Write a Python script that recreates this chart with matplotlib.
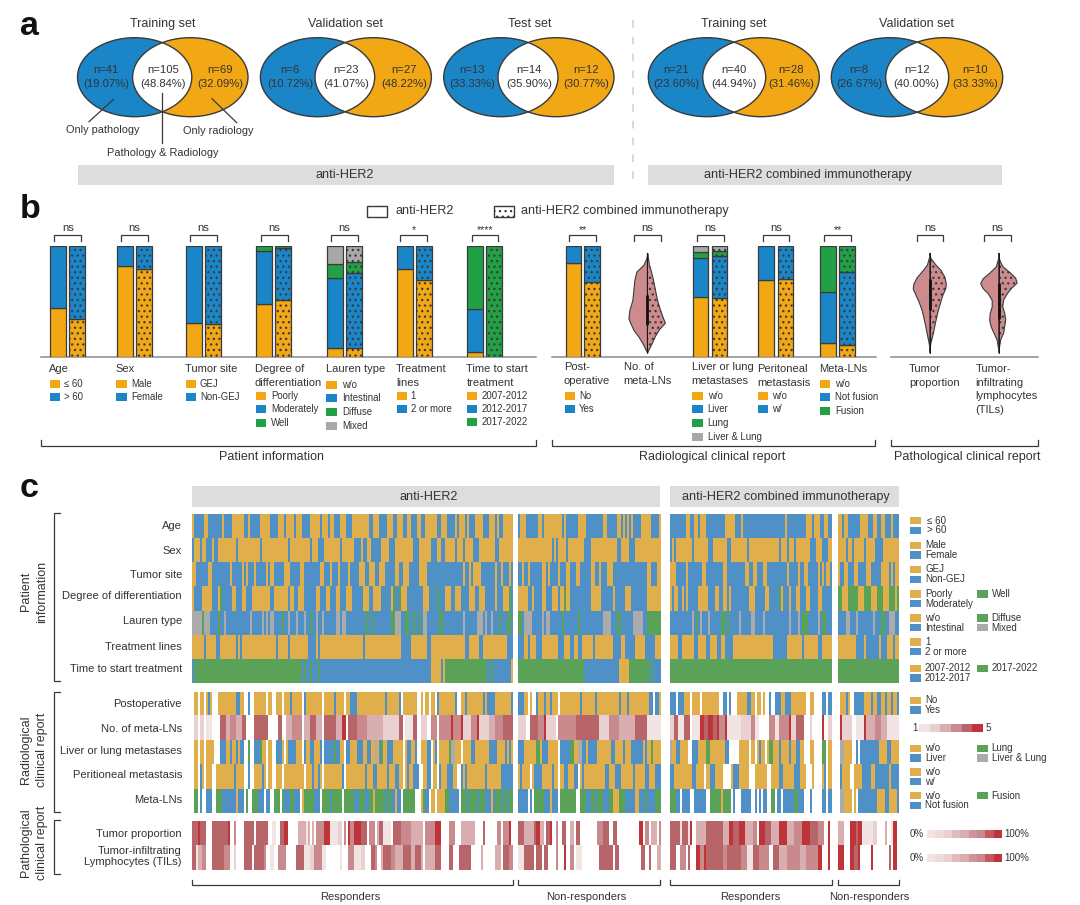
import numpy as np
import matplotlib
matplotlib.use("Agg")
import matplotlib.pyplot as plt
from matplotlib.colors import ListedColormap
from matplotlib.patches import Ellipse, Rectangle

plt.rcParams['font.family'] = ['Liberation Sans', 'DejaVu Sans']
plt.rcParams['hatch.linewidth'] = 0.9

W, H = 1080, 905
ORANGE = '#F2A714'
BLUE = '#1A86C8'
GREEN = '#22A046'
GREY = '#A8A8A8'
DARK = '#3A3A3A'
TXT = '#333333'
BANNER = '#DCDEDD'
VIOLIN = '#CD8B8D'
DOTS = '...'

# ---- panel a data
venn_titles = ['Training set', 'Validation set', 'Test set', 'Training set', 'Validation set']
venn_only_path = [('n=41', '(19.07%)'), ('n=6', '(10.72%)'), ('n=13', '(33.33%)'), ('n=21', '(23.60%)'), ('n=8', '(26.67%)')]
venn_both = [('n=105', '(48.84%)'), ('n=23', '(41.07%)'), ('n=14', '(35.90%)'), ('n=40', '(44.94%)'), ('n=12', '(40.00%)')]
venn_only_rad = [('n=69', '(32.09%)'), ('n=27', '(48.22%)'), ('n=12', '(30.77%)'), ('n=28', '(31.46%)'), ('n=10', '(33.33%)')]
venn_left = [77.5, 260.4, 443.7, 648.3, 831.3]
venn_right = [248, 431.4, 614, 819.3, 1002.7]
venn_lens_l = [132.6, 315, 498, 702.7, 885.7]
venn_lens_r = [191.8, 374.7, 558, 765.7, 948.7]
venn_txt_x = [(106, 163, 220), (290, 346, 404), (472, 529.4, 586.5), (676, 734, 790.7), (859.3, 916.7, 974.7)]

# ---- panel b data, stacked percentages (bottom to top): anti-HER2, combined
age = [[44, 56], [34.4, 65.6]]
sex = [[82.3, 17.7], [79.3, 20.7]]
tumor_site = [[30.2, 69.8], [29.3, 70.7]]
differentiation = [[48, 47.5, 4.5], [51, 46.9, 2.1]]
lauren = [[7.8, 63.2, 12.5, 16.5], [7.8, 68.2, 10, 14]]
treatment_lines = [[79, 21], [69, 31]]
time_to_start = [[4.2, 39.2, 56.6], [0, 0, 100]]
postoperative = [[84.4, 15.6], [67.4, 32.6]]
liver_lung = [[54.5, 35, 4.8, 5.7], [53.6, 37.4, 4.2, 4.8]]
peritoneal = [[69.8, 30.2], [70.7, 29.3]]
meta_lns = [[12.3, 46.4, 41.3], [11, 65.3, 23.7]]
stack_colors = [ORANGE, BLUE, GREEN, GREY]

bar_groups = [age, sex, tumor_site, differentiation, lauren, treatment_lines, time_to_start,
              postoperative, liver_lung, peritoneal, meta_lns]
bar_x = [(50.3, 69.2), (117, 136), (186, 205), (256, 275), (327, 346), (397, 416), (467, 486),
         (565.5, 584.4), (692.5, 711.5), (758.3, 777.6), (820.3, 839)]

sig_labels = ['ns', 'ns', 'ns', 'ns', 'ns', '*', '****', '**', 'ns', 'ns', 'ns', '**', 'ns', 'ns']
sig_x = [(54.4, 81.3), (121, 147.7), (190, 217), (260.7, 287.5), (331, 358), (400, 427), (472, 498),
         (569, 596), (633.7, 660.5), (696.7, 723.5), (762.5, 789.3), (824.4, 851.3), (916.7, 943.2), (984, 1010.7)]

# violin outlines: height in percent, half widths to the left and the right
vio_meta_y = [93.4, 89, 83, 77, 69.5, 60.5, 51.5, 42.5, 35, 30.5, 24.5, 18.5, 12.5, 7, 4]
vio_meta_l = [0, 1, 4, 11, 13, 14, 15, 18, 19, 17, 14, 9, 5, 2, 0]
vio_meta_r = [0, 1, 2, 4, 6, 8, 10, 13, 16, 18, 12, 8, 5, 2, 0]
vio_prop_y = [93.4, 89, 83, 78.3, 72, 66, 61.5, 55.5, 49.5, 42, 30, 21, 12, 4]
vio_prop_l = [0, 1, 3, 7, 13, 16.5, 17, 14, 11, 8, 5, 3, 1, 0]
vio_prop_r = [0, 1, 6, 11, 15, 16.5, 16, 13, 11, 8.5, 5.5, 3.5, 1, 0]
vio_til_y = [93.4, 87.5, 81.5, 75.5, 71, 66.6, 62, 57.5, 51.5, 45.5, 39.5, 33.5, 27.5, 21.5, 15.5, 4]
vio_til_l = [0, 1, 3, 10, 16, 18.5, 16, 11, 7, 7, 9, 9.5, 8, 5, 2, 0]
vio_til_r = [0, 1, 4, 12, 17, 18.5, 13, 9, 5, 4, 6, 7, 6, 5, 2, 0]
vio_x = [647.4, 929.8, 998.7]
vio_box = [(29, 56), (42, 70), (34, 67)]

# ---- panel c data, one run list per row and block (letter + number of columns)
hm_age = ['O1 B5 O2 B7 O1 B4 O6 B2 O1 B5 O5 B3 O3 B1 O4 B1 O3 B4 O5 B1 O3 B1 O2 B3 O3 B3 O2 O6 B2 O3 B4 O3 B2 O3 B2 O2 B3 O2 B2 O5 B2 O3 B4 O1 B1 O3 B1 O1 B3 O4 B3 O3 B1 O1 B2 O5',
          'B1 O3 B6 O2 B1 O9 B1 O1 B6 O4 B7 O2 B5 O2 B1 O1 B1 O1 B1 O1 B4 O5 B4 O1',
          'B8 O2 B2 O2 B1 O3 B9 O5 B3 O1 B22 O1 B9 O3 B1 O3 B2 O2 B2',
          'O2 B1 O2 B6 O4 B2 O2 B2 O2 B3 O1 B3']
hm_sex = ['B1 O3 B1 O2 B3 O1 B2 O9 B1 O11 B1 O13 B1 O10 B1 O3 B3 O8 B1 O7 B3 O1 B2 O2 B5 O4 B3 O9 B3 O6 B3 O2 B2 O5 B1 O3 B1 O4 B3 O8 B2 O7',
          'O17 B1 O1 B1 O4 B1 O8 B2 O13 B2 O4 B3 O13',
          'B1 O1 B1 O8 B1 O7 B2 O7 B2 O8 B1 O15 B1 O3 B1 O2 B1 O7 B3 O3 B3 O2',
          'O4 B1 O2 B1 O5 B1 O4 B4 O8']
hm_site = ['O2 B6 O2 B9 O1 B5 O1 B1 O1 B3 O1 B5 O1 B1 O2 B5 O3 B5 O2 B8 O2 B3 O1 B3 O1 B4 O1 B3 O3 B2 O3 B2 O3 B5 O2 B2 O3 B5 O4 B3 B15 O1 B2 O1 B1 O4 B7 O1 B2 O1 B3 O1 B1',
           'B2 O1 B2 O1 B6 O2 B1 O1 B4 O1 B3 O2 B3 O2 B5 O2 B2 O1 B3 O3 B17 O2 B3 O2',
           'O3 B5 O1 B7 O2 B8 O2 B9 O2 B2 O2 B3 O2 B10 O1 B4 O1 B2 O2 B5 O1 B1 O1 B1 O2 B1',
           'O1 B2 O2 B3 O2 B4 O2 B5 O4 B1 O1 B1 O2']
hm_diff = ['O1 B4 O5 B3 O1 G1 B5 O2 B3 O2 B3 O9 B3 O7 B1 O2 B2 O3 B6 O2 B3 O2 B3 O2 B3 O3 B5 O3 B2 O4 B5 O1 G1 B2 G1 O3 B4 B4 O3 B5 G1 B3 O3 B2 O3 B4 O3 B2 O3 B5 O1 B3 O3 G1 B1',
           'O5 B2 O1 B4 O2 B3 O3 B1 O2 G1 O2 B10 O5 B6 O1 B5 O3 B8 O7',
           'O1 B1 O2 B2 O1 B1 O1 B5 O5 B4 O2 B2 O2 B1 O1 B9 O3 B5 O2 B5 G1 O1 B3 O2 B2 O2 B3 O2 B4 O2 B5',
           'G2 O3 G5 O3 G3 O3 G3 O3 G3 O1 G1']
hm_lauren = ['S5 G1 S3 B4 G1 B2 S1 B12 S1 B5 S1 B1 S1 B1 S1 B4 G1 B2 S1 B3 S1 B3 S1 B2 G1 B2 S1 B2 S1 B6 S2 B1 S2 B9 G1 B2 G1 B9 G2 S3 B2 G2 B2 G1 B2 G1 B1 S2 B5 G2 B10 S1 B6 S3 B1 S1 B2 S1 B3 G1 B3 G2 B1',
             'G2 B1 S4 B5 S1 B1 S2 B5 G1 B7 G1 B11 S4 B3 G2 B5 S5 B2 G7',
             'B11 S1 B1 G1 B1 S1 B3 S1 B5 G2 B1 G1 B5 S1 B5 S2 B4 S1 B12 S1 B3 S1 B1 G3 B5 S1 B1 G2 B3',
             'B4 S2 B3 S1 B7 S1 B3 G2 B2 S3 B2']
hm_lines = ['O6 B1 O5 B2 O8 B1 O1 B1 O17 B1 O5 B1 O9 B4 O1 B1 O22 B1 O18 B5 O8 B2 O17 B2 O5 B2 O12 B3',
            'B3 O2 B1 O3 B3 O8 B3 O3 B2 O2 B2 O4 B1 O9 B4 O2 B5 O5 B5 O3',
            'O4 B2 O6 B2 O4 B2 O4 B2 O2 B4 O20 B7 O8 B1 O7 B2 O5',
            'O9 B4 O1 B6 O1 B3 O3 B1 O2']
hm_time = ['B1 G54 B1 G1 B2 G1 B3 G1 B54 O5 B1 O1 G21 B2 G1 B9 O1',
           'G33 B17 O5 G10 B1 G1 B4',
           'G80',
           'G30']
hm_postop = ['W1 O2 W1 O2 W1 O1 B1 O1 W3 O9 B2 O2 W1 B1 W2 O6 W1 O2 W2 O3 W1 O3 B1 O5 W1 B1 O8 W1 O5 B1 O4 W1 O2 B2 O14 B1 O6 B1 W1 O7 W2 O1 W1 O2 W1 O2 W1 B1 O8 B1 W1 O2 B1 O8 B1 O1 B4 O8 B1',
             'B3 O2 W1 O1 W2 B1 O2 B1 O2 B1 O3 W1 O10 B1 O5 B1 O11 B1 O3 B1 O9 B2 W1 B2 O1',
             'B3 W1 B3 O3 W1 O5 W1 O8 W2 B2 W1 B1 W3 O5 B2 W1 O2 W1 O2 W1 O1 W2 B1 W2 B3 O2 B3 O7 W3 O2 W4 B2 W1 B2',
             'W1 O3 B1 O1 W2 B5 O2 B1 O2 B2 O2 B1 O2 B1 O2 B1']
hm_nmeta = ['W1 b2 W1 b2 W1 a3 W3 e3 c2 d3 c3 e2 W4 e7 W2 W2 e2 W2 c3 d5 W1 c3 e3 c3 W1 e5 c3 f2 W1 e4 d5 c7 b8 e2 W1 a4 e2 W2 b3 W2 d2 W1 d6 f1 d4 f1 b4 d3 f1 b4 c3 d4 e5',
            'b4 W2 e4 d3 f1 b5 W1 d9 e5 e5 b5 d5 c8 e6 a7',
            'b2 e2 a3 e3 W1 a4 f2 e2 f2 e2 f1 d3 f1 a7 b5 W1 d2 a2 W5 d3 a2 d5 f1 b2 e4 W3 b1 W5 f1 W2 b2',
            'W1 f1 b5 W2 a4 f1 c4 d3 c3 a6']
hm_liver = ['W1 O2 W1 O2 W1 O3 W3 B3 O2 B1 O2 B1 O1 B2 W1 G1 W2 B3 G1 O2 W1 O2 W2 B2 O1 W1 O1 B4 O3 W1 B1 O2 B2 O2 B1 W1 B5 G1 B2 O2 W1 B2 O2 B3 O2 B2 O2 S1 O1 B1 G1 O2 B2 O5 W1 O1 B2 O2 B1 W2 O2 B2 W1 O1 B1 W1 O5 G1 S2 O2 W1 O4 B2 O7 B3 O4 B1 O1 B1 O1',
            'B3 O6 G2 O1 B3 O5 W1 B5 G2 O2 S2 B2 O1 B4 O7 B2 O4 B1 O3 B6 O1 B1 O2 G1 O4',
            'S1 O2 B2 O4 W1 B3 O4 G2 O7 B2 W4 O5 W1 O2 W1 O1 B1 O2 W1 O1 G1 O3 B1 O4 B1 O2 B2 O2 W3 O1 W4 G2 W1 O2',
            'W1 S2 O4 W2 B1 W1 B9 O4 B2 O4']
hm_perit = ['W1 O2 W1 B1 O1 W1 O3 W2 O8 B1 O4 W1 W1 B1 W2 O4 B1 O1 W1 O2 W2 O3 W1 O9 W1 O3 B1 O2 B1 O1 W1 O9 B1 W1 O8 B1 O3 B2 O5 B1 O3 B2 O2 W1 O1 B1 O2 B2 W2 O2 B2 W1 O2 W1 B1 O3 B3 O2 W2 B1 O1 B1 O8 B1 O7 B6',
            'O1 B1 O4 W1 O1 B4 O5 B1 O3 W1 O2 B2 O3 B2 W1 O1 B1 O10 B2 O3 B3 O7 B1 O5 B2 O3 B3',
            'B2 O9 B2 O4 W1 O2 B2 O4 W4 O1 B3 O5 W2 O6 W2 O4 B2 O5 B3 O3 W3 O1 W4 O1 B1 W1 O2',
            'W1 B1 O4 W2 O4 B3 O2 B3 B4 O1 B4']
hm_meta = ['W1 G2 W1 B1 W2 B3 W2 G3 B6 O1 B3 W1 G1 W2 G3 B3 W1 B2 W2 G3 W1 G1 B2 G2 B3 W1 O1 G5 B3 W1 G4 B1 G5 W1 G4 B2 G3 B2 G2 O1 G5 B1 G2 B2 O1 B2 W1 G6 W2 O1 G1 B2 W1 O2 W1 O4 G2 B5 W1 G3 B1 G4 B1 G2 B3 O1 B1 G3 B1 G2 B1 G2',
           'B5 W1 B1 W1 G5 B3 O1 B3 W1 G8 W2 G3 B1 G2 B1 G3 B3 G2 O3 G3 B5 O2 B3 G1 B4 G3',
           'G3 B2 W1 B4 W2 B6 W2 G5 O1 G4 W1 B1 W3 B6 W2 B1 W1 B1 W1 B2 W2 G2 W1 B2 W1 B5 G2 B3 W3 B1 W5 B2 W1 B2',
           'W1 S2 O4 W1 O1 W1 B9 O4 B2 O4 B1']
hm_prop = ['e3 f1 e3 W3 e8 f1 W2 d1 W4 e4 W1 e6 W2 a2 W2 e2 f2 W5 c4 a1 c1 W1 c1 W1 d4 f3 a4 b2 W1 d1 W1 f1 d1 f3 e3 W1 d3 W1 c1 e2 a4 W1 e4 d5 c6 W1 d5 f3 W4 d3 W2 c7 W4 e1 W6 d2 W1 d3 f1 W1',
           'e3 c5 e1 f2 c2 W1 e2 f1 W2 d1 W2 e2 W2 c2 W1 e2 W9 d3 e3 W2 e2 W11 f2 W1 d2 W1 c3 W1 d1',
           'e5 a1 e3 a1 f1 W2 c5 e8 c3 f2 e3 f3 c3 d2 W1 f3 e3 c4 f4 c3 d4 f4 e4 d3 W2 f1 W1',
           'c3 W3 f3 e1 f2 a5 b2 W4 c1 W2 a1 f2 W1']
hm_tils = ['e2 a1 c2 d2 W3 e6 d3 W2 b1 W4 e4 W1 e5 d1 W2 a2 W2 d4 W5 e4 a3 b2 d4 a2 W7 a1 W3 d2 a3 b2 W3 e2 d1 W2 c1 e4 d2 c4 e4 c2 e3 c1 W1 c5 e3 W4 e2 W3 e6 W5 c1 W6 c3 W1 e3 d2',
           'a3 e5 W1 e3 W1 e2 W4 d1 W3 f1 W2 d2 W1 a3 W8 e7 W1 e2 W11 e2 W2 e1 W3 c2',
           'e3 W2 d3 W1 e1 W3 f2 d2 f1 e8 d2 e7 d3 a3 e3 d5 W2 e3 c4 d6 c3 d6 f2 W3 f1 W1',
           'f3 W3 f2 e2 f1 W5 f1 W8 e1 W1 f2 W1']

row_group1 = [hm_age, hm_sex, hm_site, hm_diff, hm_lauren, hm_lines, hm_time]
row_group2 = [hm_postop, hm_nmeta, hm_liver, hm_perit, hm_meta]
row_group3 = [hm_prop, hm_tils]
block_cols = [160, 71, 80, 30]
block_x = [(192, 512.7), (517.7, 660), (670, 831.7), (837.7, 898.7)]
group_y = [(514, 683), (692, 813), (821, 870)]

hm_codes = 'WOBGSabcdef'
hm_colors = ['#FFFFFF', '#E1AE4C', '#4F91C7', '#5AA257', '#ABABAB',
             '#F3E4E4', '#E9D1D2', '#D9AEB0', '#C98A8D', '#B76569', '#BF3438']
hm_cmap = ListedColormap(hm_colors)
key_six = ['#F3E4E4', '#E9D1D2', '#D9AEB0', '#C98A8D', '#B76569', '#BF3438']
key_nine = ['#F3E4E4', '#EEDADB', '#E9D1D2', '#DEBBBD', '#D9AEB0', '#CE9496', '#C98A8D', '#C45A5D', '#BF3438']


def expand(runs, ncols):
    # run list to one code per column, fitted to the width of the block
    tokens = runs.split()
    codes = [hm_codes.index(t[0]) for t in tokens]
    counts = np.array([int(t[1:]) for t in tokens])
    edges = np.round(np.cumsum(counts) * ncols / counts.sum()).astype(int)
    return np.repeat(codes, np.diff(np.r_[0, edges]))


fig = plt.figure(figsize=(W / 100, H / 100), dpi=100)
ax = fig.add_axes([0, 0, 1, 1])
ax.set_xlim(0, W)
ax.set_ylim(H, 0)
ax.axis('off')


def T(x, y, s, size=7, ha='left', va='center', **kw):
    kw.setdefault('color', TXT)
    return ax.text(x, y, s, fontsize=size, ha=ha, va=va, **kw)


def bracket(x0, x1, y, tip):
    # tip is signed: the way the ends point
    ax.plot([x0, x0, x1, x1], [y + tip, y, y, y + tip], color=DARK, lw=0.9, solid_joinstyle='miter')


def side_bracket(x, tip, y0, y1):
    ax.plot([x + tip, x, x, x + tip], [y0, y0, y1, y1], color=DARK, lw=0.9, solid_joinstyle='miter')


def swatch(x, y, w, c):
    ax.add_patch(Rectangle((x, y - 4), w, 8, fc=c, ec='none'))


def panel_axes(x0, x1, y0, y1):
    return fig.add_axes([x0 / W, 1 - y1 / H, (x1 - x0) / W, (y1 - y0) / H])


# panel letters
for (x, y, s) in [(20, 35, 'a'), (20, 218, 'b'), (20, 497, 'c')]:
    ax.text(x, y, s, fontsize=24.5, fontweight='bold', color='#111111', va='baseline')

# ---- panel a
VY, VH = 77.2, 79
for i in range(5):
    L, R, a, b = venn_left[i], venn_right[i], venn_lens_l[i], venn_lens_r[i]
    w1, w2 = b - L, R - a
    c1, c2 = (L + b) / 2, (a + R) / 2
    ax.add_patch(Ellipse((c1, VY), w1, VH, fc=BLUE, ec='none'))
    o = Ellipse((c2, VY), w2, VH, fc=ORANGE, ec='none')
    ax.add_patch(o)
    lens = Ellipse((c1, VY), w1, VH, fc='white', ec='none')
    ax.add_patch(lens)
    lens.set_clip_path(o)
    ax.add_patch(Ellipse((c1, VY), w1, VH, fc='none', ec=DARK, lw=1.0))
    ax.add_patch(Ellipse((c2, VY), w2, VH, fc='none', ec=DARK, lw=1.0))
    tx = venn_txt_x[i]
    for xx, (n, pct) in zip(tx, (venn_only_path[i], venn_both[i], venn_only_rad[i])):
        T(xx, 70.3, n, 8.1, ha='center')
        T(xx, 84.3, pct, 8.1, ha='center')
    T(tx[1], 24, venn_titles[i], 9.0, ha='center')

for xs, ys in [((113.5, 89), (99.3, 121.7)), ((212, 236.7), (98.7, 122.7)), ((162.4, 162.4), (92.7, 143))]:
    ax.plot(xs, ys, color=DARK, lw=0.9)
T(103, 130, 'Only pathology', 7.9, ha='center')
T(218, 131, 'Only radiology', 7.9, ha='center')
T(162.4, 152.7, 'Pathology & Radiology', 7.9, ha='center')

ax.add_patch(Rectangle((77.5, 165), 536, 20, fc=BANNER, ec='none'))
ax.add_patch(Rectangle((648.3, 165), 354, 20, fc=BANNER, ec='none'))
T(345, 175, 'anti-HER2', 9.1, ha='center')
T(808, 175, 'anti-HER2 combined immunotherapy', 9.1, ha='center')
ax.plot([632.7, 632.7], [20, 184], color='#CFCFCF', lw=1.1, ls=(0, (5, 6)))

# ---- panel b
ax.add_patch(Rectangle((367.4, 205.7), 20, 11.3, fc='white', ec=DARK, lw=1.0))
T(396, 211, 'anti-HER2', 9.1)
ax.add_patch(Rectangle((494, 205.7), 20, 11.3, fc='white', ec=DARK, lw=1.0, hatch=DOTS))
T(520.7, 211, 'anti-HER2 combined immunotherapy', 9.1)

bx = panel_axes(0, W, 246, 357)
bx.set_xlim(0, W)
bx.set_ylim(0, 100)
bx.axis('off')
bx.patch.set_alpha(0)
BW = 15.8
for vals, xs in zip(bar_groups, bar_x):
    for j, (stack, x) in enumerate(zip(vals, xs)):
        bottom = 0
        for v, c in zip(stack, stack_colors):
            if v > 0:
                bx.bar(x, v, BW, bottom=bottom, align='edge', color=c, edgecolor=DARK, linewidth=0.9,
                       hatch=DOTS if j else None)
            bottom += v

for xc, ys, l, r, box in [(vio_x[0], vio_meta_y, vio_meta_l, vio_meta_r, vio_box[0]),
                          (vio_x[1], vio_prop_y, vio_prop_l, vio_prop_r, vio_box[1]),
                          (vio_x[2], vio_til_y, vio_til_l, vio_til_r, vio_box[2])]:
    ys = np.array(ys)
    bx.fill_betweenx(ys, xc - np.array(l), xc, fc=VIOLIN, ec=DARK, lw=0.8)
    bx.fill_betweenx(ys, xc, xc + np.array(r), fc=VIOLIN, ec=DARK, lw=0.8, hatch=DOTS)
    bx.plot([xc, xc], [ys[-1], ys[0]], color='#111111', lw=0.6)
    bx.plot([xc, xc], box, color='#111111', lw=2.0, solid_capstyle='butt')

for (x0, x1), s in zip(sig_x, sig_labels):
    bracket(x0, x1, 234.7, 6)
    if 'n' in s:
        T((x0 + x1) / 2, 227.5, s, 8.2, ha='center')
    else:
        T((x0 + x1) / 2, 230, s, 7.6, ha='center')

for x0, x1 in [(40.6, 535.5), (552, 875.7), (891, 1037.6)]:
    ax.plot([x0, x1], [357, 357], color='#8A8A8A', lw=1.1)

b_titles = [(49, 369, ['Age']), (115.7, 369, ['Sex']), (185, 369, ['Tumor site']),
            (254.8, 369, ['Degree of', 'differentiation']), (325.8, 369, ['Lauren type']),
            (396, 369, ['Treatment', 'lines']), (466.3, 369, ['Time to start', 'treatment']),
            (564, 367, ['Post-', 'operative']), (623.7, 367, ['No. of', 'meta-LNs']),
            (691.5, 367, ['Liver or lung', 'metastases']), (757.3, 369, ['Peritoneal', 'metastasis']),
            (819, 369, ['Meta-LNs']), (909, 369, ['Tumor', 'proportion']),
            (975.6, 369, ['Tumor-', 'infiltrating', 'lymphocytes', '(TILs)'])]
for x, y, lines in b_titles:
    for k, s in enumerate(lines):
        T(x, y + k * 13.6, s, 8.0)

b_legends = [(50, 64.4, [384, 397.3], ['≤ 60', '> 60']),
             (116.4, 130.9, [384, 397.3], ['Male', 'Female']),
             (185.6, 200, [384, 397.3], ['GEJ', 'Non-GEJ']),
             (255.5, 271, [396, 409.3, 422.7], ['Poorly', 'Moderately', 'Well']),
             (326.4, 342, [385, 398.3, 411.7, 425.7], ['w/o', 'Intestinal', 'Diffuse', 'Mixed']),
             (396.7, 410.8, [395.7, 409], ['1', '2 or more']),
             (467, 482, [395.7, 409, 422.3], ['2007-2012', '2012-2017', '2017-2022']),
             (564.8, 579, [395.7, 409], ['No', 'Yes']),
             (692.2, 707.7, [395.7, 409.3, 422.7, 436.7], ['w/o', 'Liver', 'Lung', 'Liver & Lung']),
             (758, 772.4, [395.7, 409], ['w/o', 'w/']),
             (820, 835, [384, 397.3, 410.7], ['w/o', 'Not fusion', 'Fusion'])]
for sx, tx, ys, names in b_legends:
    for k, (y, s) in enumerate(zip(ys, names)):
        swatch(sx, y, 10.3, stack_colors[k])
        T(tx, y, s, 6.9)

bracket(40.6, 535.5, 446, -6)
bracket(552, 875, 446, -6)
bracket(891, 1037.6, 446, -6)
T(271.4, 456.7, 'Patient information', 9.0, ha='center')
T(712, 456.7, 'Radiological clinical report', 9.0, ha='center')
T(967, 456.7, 'Pathological clinical report', 9.0, ha='center')

# ---- panel c
ax.add_patch(Rectangle((192, 486), 468, 20.5, fc=BANNER, ec='none'))
ax.add_patch(Rectangle((670, 486), 228.7, 20.5, fc=BANNER, ec='none'))
T(429, 496.5, 'anti-HER2', 9.1, ha='center')
T(786, 496.5, 'anti-HER2 combined immunotherapy', 9.1, ha='center')

for rows, (y0, y1) in zip((row_group1, row_group2, row_group3), group_y):
    for b, (x0, x1) in enumerate(block_x):
        grid = np.array([expand(r[b], block_cols[b]) for r in rows])
        hx = panel_axes(x0, x1, y0, y1)
        hx.imshow(grid, cmap=hm_cmap, vmin=0, vmax=len(hm_colors) - 1, aspect='auto', interpolation='nearest')
        hx.axis('off')

row_labels = [(525.7, 'Age'), (550.7, 'Sex'), (575.3, 'Tumor site'), (596.3, 'Degree of differentiation'),
              (621.3, 'Lauren type'), (646.7, 'Treatment lines'), (669.3, 'Time to start treatment'),
              (704.3, 'Postoperative'), (729.3, 'No. of meta-LNs'), (750.7, 'Liver or lung metastases'),
              (775, 'Peritioneal metastasis'), (800, 'Meta-LNs'), (834.3, 'Tumor proportion'),
              (851, 'Tumor-infiltrating'), (862.3, 'Lymphocytes (TILs)')]
for y, s in row_labels:
    T(182, y, s, 8.0, ha='right')

side_bracket(54, 6.3, 513, 680.7)
side_bracket(54, 6.3, 692, 811.7)
side_bracket(54, 6.3, 820, 874)
for x, y, s in [(25.7, 591.7, 'Patient'), (42, 591.7, 'information'),
                (25.7, 750, 'Radiological'), (42, 750, 'clinical report'),
                (25.7, 843, 'Pathological'), (42, 843, 'clinical report')]:
    T(x, y, s, 9.0, ha='center', rotation=90)

for (x0, x1), xc, s in zip(block_x, (350, 586.7, 750.7, 869),
                           ('Responders', 'Non-responders', 'Responders', 'Non-responders')):
    bracket(x0, x1, 885, -5)
    T(xc, 896.7, s, 8.0, ha='center')

c_legends = [(520.7, 530.3, '≤ 60', '> 60', None, None),
             (545.3, 555, 'Male', 'Female', None, None),
             (569.3, 579.3, 'GEJ', 'Non-GEJ', None, None),
             (594, 603.7, 'Poorly', 'Moderately', 'Well', None),
             (618, 627.7, 'w/o', 'Intestinal', 'Diffuse', 'Mixed'),
             (642, 651.7, '1', '2 or more', None, None),
             (668.3, 678, '2007-2012', '2012-2017', '2017-2022', None),
             (700.3, 710, 'No', 'Yes', None, None),
             (748.3, 758, 'w/o', 'Liver', 'Lung', 'Liver & Lung'),
             (772, 781.7, 'w/o', 'w/', None, None),
             (795.7, 805.3, 'w/o', 'Not fusion', 'Fusion', None)]
for y1, y2, a, b, g, s in c_legends:
    ax.add_patch(Rectangle((910, y1 - 3.7), 11, 7.4, fc=hm_colors[1], ec='none'))
    ax.add_patch(Rectangle((910, y2 - 3.7), 11, 7.4, fc=hm_colors[2], ec='none'))
    T(926.7 if '60' in a else 925, y1, a, 7.0)
    T(926.7 if '60' in b else 925, y2, b, 7.0)
    if g:
        ax.add_patch(Rectangle((977, y1 - 3.7), 10.7, 7.4, fc=hm_colors[3], ec='none'))
        T(991.7, y1, g, 7.0)
    if s:
        ax.add_patch(Rectangle((977, y2 - 3.7), 10.7, 7.4, fc=hm_colors[4], ec='none'))
        T(991.7, y2, s, 7.0)

# colour keys
for y, x0, x1, colors, lo, hi, lx, hx_ in [(728, 919, 982.7, key_six, '1', '5', 912.7, 986),
                                           (834.3, 926.7, 1001, key_nine, '0%', '100%', 910, 1004),
                                           (857.7, 926.7, 1001, key_nine, '0%', '100%', 910, 1004)]:
    kx = panel_axes(x0, x1, y - 4, y + 4)
    kx.imshow(np.arange(len(colors)).reshape(1, -1), cmap=ListedColormap(colors), aspect='auto', interpolation='nearest')
    kx.axis('off')
    T(lx, y, lo, 7.0)
    T(hx_, y, hi, 7.0)

fig.savefig('out.png', dpi=100)
